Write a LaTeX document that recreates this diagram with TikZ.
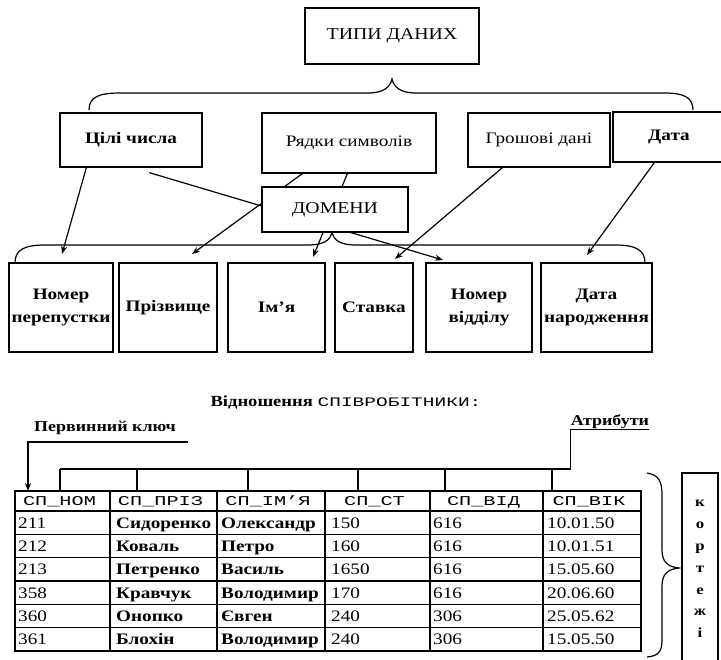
\documentclass[tikz,border=0pt]{standalone}
\usepackage{fontspec}
\setmainfont{Liberation Serif}[FakeStretch=1.2]
\newfontfamily\monofont{Liberation Mono}[FakeStretch=1.5]
\usetikzlibrary{arrows.meta,calc,backgrounds}

\begin{document}
\begin{tikzpicture}[x=1pt,y=-1pt,
  box/.style={draw, line width=1.3pt, fill=white, inner sep=0pt, align=center,
              font=\fontsize{16}{23}\selectfont\bfseries},
  plainbox/.style={box, font=\fontsize{16.5}{20}\selectfont},
  sz/.style 2 args={minimum width=#1pt, minimum height=#2pt},
  link/.style={line width=1.2pt, -{Stealth[length=8pt,width=6pt]}},
  bracepath/.style={line width=1.2pt},
  tblline/.style={line width=1.1pt},
  hdrcell/.style={font=\monofont\fontsize{13.5}{15}\selectfont, inner sep=0pt, anchor=base},
  numcell/.style={font=\fontsize{16}{18}\selectfont, inner sep=0pt, anchor=base west},
  wordcell/.style={font=\fontsize{16}{18}\selectfont\bfseries, inner sep=0pt, anchor=base west},
  capt/.style={font=\fontsize{15}{18}\selectfont\bfseries, inner sep=0pt}]
\useasboundingbox (0,0) rectangle (721,660);

% ---- data types ----
\node[plainbox, sz={174}{56}] (types) at (392,36) {ТИПИ ДАНИХ};
\node[box, sz={142}{54}] (ints) at (131,140) {Цілі числа};
\node[box, font=\fontsize{16}{23}\selectfont, sz={174}{60}] (strs) at (349,143) {Рядки символів};
\node[box, font=\fontsize{16}{23}\selectfont, sz={142}{54}] (money) at (539,140) {Грошові дані};
\node[box, sz={112}{50}] (date) at (669,137) {Дата};

% ---- domains ----
\node[plainbox, sz={146}{45}] (dom) at (335,209.5) {ДОМЕНИ};
\node[box, sz={104}{89}] (pass)  at (61,307.5)  {Номер\\перепустки};
\node[box, sz={98}{89}]  (surn)  at (168,307.5) {Прізвище};
\node[box, sz={97}{89}]  (fname) at (276.5,307.5) {Ім'я};
\node[box, sz={78}{89}]  (rate)  at (374,307.5) {Ставка};
\node[box, sz={106}{89}] (dept)  at (479,307.5) {Номер\\відділу};
\node[box, sz={111}{89}] (birth) at (596.5,307.5) {Дата\\народження};

% braces
\draw[bracepath] (89,110) .. controls (89,97) and (99,93) .. (120,93) -- (368,93)
  .. controls (384,93) and (390,87) .. (392,79)
  .. controls (394,87) and (400,93) .. (416,93) -- (664,93)
  .. controls (685,93) and (693,98) .. (693,110);
\draw[bracepath] (15,263) .. controls (15,250) and (24,245) .. (45,245) -- (308,245)
  .. controls (324,245) and (330,240) .. (332,233)
  .. controls (334,240) and (340,245) .. (356,245) -- (615,245)
  .. controls (636,245) and (645,250) .. (645,263);

% arrow tips
\coordinate (tPass) at (62,254);
\coordinate (tDept) at (443,260);
\coordinate (tSurn) at (192,254);
\coordinate (tName) at (313,257);
\coordinate (tRate) at (395,259);
\coordinate (tBirth) at (587,255);

\begin{scope}[on background layer]
\draw[link] ($(ints.south west)+(27,0)$) -- (tPass);
\draw[link] ($(ints.south west)+(90,5)$) -- (tDept);
\draw[link] ($(strs.south west)+(41,0)$) -- (tSurn);
\draw[link] ($(strs.south west)+(86,0)$) -- (tName);
\draw[link] ($(money.south west)+(35,0)$) -- (tRate);
\draw[link] ($(date.south west)+(42,0)$) -- (tBirth);
\end{scope}

% ---- relation ----
\node[font=\fontsize{15.5}{18}\selectfont\bfseries, inner sep=0pt] (title) at (346,402)
  {Відношення {\monofont\mdseries\fontsize{13}{15}\selectfont СПІВРОБІТНИКИ:}};
\node[capt] (pk) at (105,428) {Первинний ключ};
\node[capt] (attr) at (610,422) {Атрибути};

% table grid
\draw[tblline] (15,491) rectangle (641,651);
\foreach \x in {110,217,325,430,543} \draw[tblline] (\x,491) -- (\x,651);
\foreach \k in {0,...,5} {
  \pgfmathsetmacro\yy{511+23.333*\k}
  \draw[tblline] (15,\yy) -- (641,\yy);
}

% column headers
\foreach \x/\t [count=\i] in {59.5/СП\_НОМ, 160.5/СП\_ПРІЗ, 268/СП\_ІМ’Я,
                              374.5/СП\_СТ, 483.5/СП\_ВІД, 589/СП\_ВІК}
  \node[hdrcell] (h\i) at (\x,505.5) {\t};

% rows
\foreach \a/\b/\c/\d/\e/\f [count=\r] in {
    211/Сидоренко/Олександр/150/616/10.01.50,
    212/Коваль/Петро/160/616/10.01.51,
    213/Петренко/Василь/1650/616/15.05.60,
    358/Кравчук/Володимир/170/616/20.06.60,
    360/Онопко/Євген/240/306/25.05.62,
    361/Блохін/Володимир/240/306/15.05.50} {
  \pgfmathsetmacro\yy{511+23.333*(\r-0.5)+5.5}
  \node[numcell]  (r\r a) at (18,\yy)  {\a};
  \node[wordcell] (r\r b) at (116,\yy) {\b};
  \node[wordcell] (r\r c) at (221,\yy) {\c};
  \node[numcell]  (r\r d) at (331,\yy) {\d};
  \node[numcell]  (r\r e) at (433,\yy) {\e};
  \node[numcell]  (r\r f) at (547,\yy) {\f};
}

% primary key pointer
\coordinate (pkTip) at (28,491);
\draw[line width=1.1pt, -{Stealth[length=8pt,width=6pt]}]
  (188,442) -- (pkTip |- 188,442) -- (pkTip);

% attributes bar
\draw[line width=1.1pt] (attr.south east) -- (attr.south west) -- (attr.south west |- 0,469) -- (60,469);
\foreach \x in {60,137,248,358,445,552} \draw[line width=1.1pt] (\x,469) -- (\x,491);

% tuples
\draw[bracepath] (647,473) .. controls (658,475) and (662,480) .. (662,495) -- (662,550)
  .. controls (662,562) and (668,567) .. (679,568)
  .. controls (668,569) and (662,574) .. (662,586) -- (662,640)
  .. controls (662,652) and (658,656) .. (647,657);
\node[box, sz={36}{192}, font=\fontsize{14}{21.8}\selectfont\bfseries] (tup) at (700,569)
  {к\\о\\р\\т\\е\\ж\\і};
\end{tikzpicture}
\end{document}
